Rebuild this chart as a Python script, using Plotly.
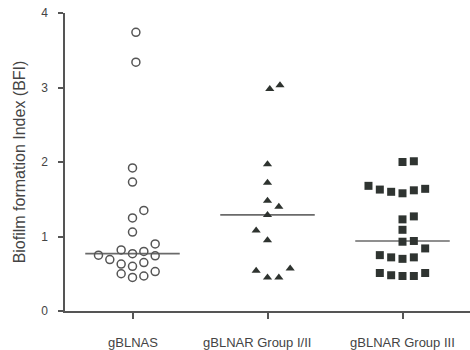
import numpy as np
import plotly.graph_objects as go

# Groups and their biofilm formation index values
groups = ["gBLNAS", "gBLNAR Group I/II", "gBLNAR Group III"]

bfi_gblnas = [3.74, 3.34, 1.92, 1.73, 1.35, 1.25, 1.06, 0.90, 0.82, 0.77, 0.80,
              0.75, 0.74, 0.69, 0.63, 0.60, 0.65, 0.50, 0.45, 0.47, 0.53]
bfi_group_12 = [2.98, 3.03, 1.97, 1.72, 1.48, 1.40, 1.29, 1.08, 0.95, 0.54,
                0.45, 0.45, 0.57]
bfi_group_3 = [2.00, 2.01, 1.68, 1.63, 1.60, 1.58, 1.62, 1.64, 1.23, 1.27,
               1.09, 0.93, 0.94, 0.84, 0.75, 0.72, 0.70, 0.72, 0.51, 0.48,
               0.47, 0.47, 0.51]

# Column-scatter slot of each point (horizontal spreading of overlapping points)
slots_gblnas = [0.3, 0.3, 0, 0, 1, 0, 0, 2, -1, 0, 1,
                -3, 2, -2, -1, 0, 1, -1, 0, 1, 2]
slots_group_12 = [0.2, 1.1, 0, 0, 0, 1, 0, -1, 0, -1, 0, 1, 2]
slots_group_3 = [0, 1, -3, -2, -1, 0, 1, 2, 0, 1,
                 0, 0, 1, 2, -2, -1, 0, 1, -2, -1, 0, 1, 2]

SLOT_W = 0.084
HALF_LINE = 0.35
LABEL_SHIFT = [0, -11, 0]

series = [
    (bfi_gblnas, slots_gblnas, dict(symbol="circle-open", size=8, color="#555555",
                                    line=dict(width=1.5, color="#555555"))),
    (bfi_group_12, slots_group_12, dict(symbol="triangle-up", size=8, color="#2e332f",
                                        line=dict(width=0))),
    (bfi_group_3, slots_group_3, dict(symbol="square", size=8, color="#2f3431",
                                      line=dict(width=0))),
]

fig = go.Figure()
for i, (vals, slots, marker) in enumerate(series):
    xs = [i + s * SLOT_W for s in slots]
    med = float(np.median(vals))
    fig.add_trace(go.Scatter(x=[i - HALF_LINE, i + HALF_LINE], y=[med, med],
                             mode="lines", line=dict(color="#6a6a6a", width=1.6),
                             hoverinfo="skip", showlegend=False))
    fig.add_trace(go.Scatter(x=xs, y=vals, mode="markers", marker=marker,
                             name=groups[i], showlegend=False))

# Category labels under the x axis
for i, name in enumerate(groups):
    fig.add_annotation(x=i, y=0, xref="x", yref="y", text=name, showarrow=False,
                       yshift=-31, xshift=LABEL_SHIFT[i], yanchor="middle",
                       font=dict(size=13, color="#444444"))

fig.update_layout(
    width=470, height=350,
    margin=dict(l=65, r=0, t=13, b=39),
    paper_bgcolor="white", plot_bgcolor="white",
    font=dict(family="Liberation Sans, Arial, sans-serif", color="#444444"),
)
fig.update_xaxes(
    range=[-0.5, 2.5], tickmode="array", tickvals=[0, 1, 2], showticklabels=False,
    showgrid=False, zeroline=False, showline=True, linecolor="#555555", linewidth=1.5,
    ticks="outside", ticklen=6, tickwidth=1.5, tickcolor="#555555",
)
fig.update_yaxes(
    range=[0, 4], tickvals=[0, 1, 2, 3, 4],
    showgrid=False, zeroline=False, showline=True, linecolor="#555555", linewidth=1.5,
    ticks="outside", ticklen=5, tickwidth=1.5, tickcolor="#555555",
    tickfont=dict(size=12, color="#444444"), ticklabelstandoff=8,
    title=dict(text="Biofilm formation Index (BFI)", font=dict(size=16, color="#444444"),
               standoff=12),
)

fig.write_html("out.html")
